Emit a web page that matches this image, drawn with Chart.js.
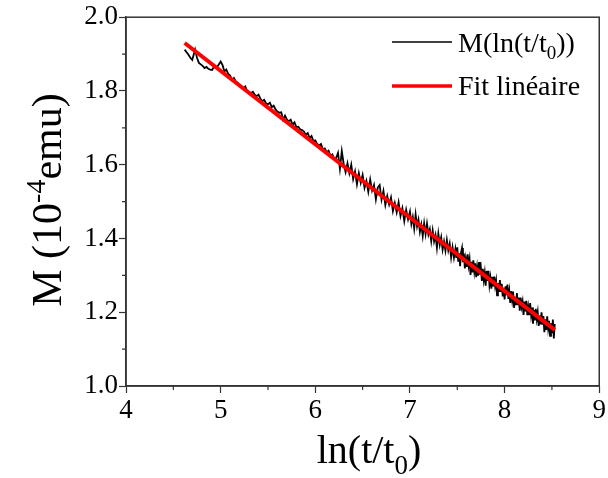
<!DOCTYPE html>
<html>
<head>
<meta charset="utf-8">
<script src="https://cdn.jsdelivr.net/npm/chart.js@4.4.1/dist/chart.umd.min.js"></script>
<style>
  html, body { margin: 0; padding: 0; background: #fff; }
  #wrap { width: 608px; height: 478px; }
</style>
</head>
<body>
<div id="wrap"><canvas id="relaxChart"></canvas></div>
<script>
const lnT = [
  4.62, 4.64, 4.66, 4.68, 4.70, 4.72, 4.73, 4.75, 4.77, 4.79, 4.81, 4.83, 4.85, 4.87, 4.89, 4.91, 4.93, 4.95, 4.97, 5.00,
  5.02, 5.04, 5.06, 5.08, 5.10, 5.12, 5.14, 5.16, 5.18, 5.20, 5.22, 5.24, 5.26, 5.28, 5.30, 5.32, 5.34, 5.36, 5.38, 5.40,
  5.42, 5.44, 5.46, 5.48, 5.50, 5.52, 5.54, 5.56, 5.58, 5.60, 5.62, 5.64, 5.66, 5.68, 5.70, 5.72, 5.74, 5.76, 5.78, 5.80,
  5.82, 5.84, 5.86, 5.88, 5.90, 5.92, 5.94, 5.96, 5.98, 6.00, 6.02, 6.04, 6.06, 6.08, 6.10, 6.12, 6.14, 6.16, 6.18, 6.20,
  6.22, 6.24, 6.26, 6.28, 6.30, 6.32, 6.34, 6.36, 6.38, 6.40, 6.42, 6.44, 6.46, 6.48, 6.50, 6.52, 6.54, 6.56, 6.58, 6.60,
  6.62, 6.64, 6.66, 6.68, 6.70, 6.72, 6.74, 6.76, 6.78, 6.80, 6.82, 6.84, 6.86, 6.88, 6.90, 6.92, 6.94, 6.96, 6.98,
  7.000, 7.015, 7.030, 7.045, 7.060, 7.075, 7.090, 7.105, 7.120, 7.135, 7.150, 7.165, 7.180, 7.195, 7.210, 7.225, 7.240,
  7.255, 7.270, 7.285, 7.300, 7.315, 7.330, 7.345, 7.360, 7.375, 7.390, 7.405, 7.420, 7.435, 7.450, 7.465, 7.480,
  7.49, 7.50, 7.51, 7.52, 7.53, 7.54, 7.55, 7.56, 7.57, 7.58, 7.59, 7.60, 7.61, 7.62, 7.63, 7.64, 7.65, 7.66, 7.67, 7.68,
  7.69, 7.70, 7.71, 7.72, 7.73, 7.74, 7.75, 7.76, 7.77, 7.78, 7.79, 7.80, 7.81, 7.82, 7.83, 7.84, 7.85, 7.86, 7.87, 7.88,
  7.89, 7.90, 7.91, 7.92, 7.93, 7.94, 7.95, 7.96, 7.97, 7.98, 7.99, 8.00, 8.01, 8.02, 8.03, 8.04, 8.05, 8.06, 8.07, 8.08,
  8.09, 8.10, 8.11, 8.12, 8.13, 8.14, 8.15, 8.16, 8.17, 8.18, 8.19, 8.20, 8.21, 8.22, 8.23, 8.24, 8.25, 8.26, 8.27, 8.28,
  8.29, 8.30, 8.31, 8.32, 8.33, 8.34, 8.35, 8.36, 8.37, 8.38, 8.39, 8.40, 8.41, 8.42, 8.43, 8.44, 8.45, 8.46, 8.47, 8.48,
  8.49, 8.50, 8.51, 8.52, 8.53
];
const magnetization = [
  1.912, 1.905, 1.898, 1.890, 1.884, 1.903, 1.912, 1.890, 1.876, 1.872, 1.868, 1.862, 1.865, 1.860, 1.858, 1.857, 1.866, 1.862, 1.868, 1.880,
  1.870, 1.853, 1.858, 1.846, 1.842, 1.830, 1.835, 1.826, 1.822, 1.816, 1.810, 1.806, 1.812, 1.800, 1.797, 1.794, 1.798, 1.790, 1.786, 1.790,
  1.779, 1.772, 1.776, 1.766, 1.764, 1.768, 1.756, 1.760, 1.750, 1.744, 1.741, 1.742, 1.722, 1.733, 1.722, 1.718, 1.722, 1.708, 1.715, 1.702,
  1.703, 1.696, 1.694, 1.690, 1.681, 1.686, 1.672, 1.678, 1.664, 1.666, 1.656, 1.652, 1.656, 1.642, 1.644, 1.634, 1.638, 1.624, 1.628, 1.616,
  1.618, 1.632, 1.589, 1.637, 1.602, 1.580, 1.604, 1.577, 1.600, 1.561, 1.582, 1.547, 1.577, 1.551, 1.572, 1.537, 1.556, 1.527, 1.560, 1.530,
  1.545, 1.506, 1.538, 1.545, 1.505, 1.529, 1.491, 1.515, 1.492, 1.511, 1.474, 1.496, 1.471, 1.498, 1.461, 1.482, 1.447, 1.478, 1.452,
  1.473, 1.439, 1.458, 1.427, 1.465, 1.433, 1.451, 1.418, 1.438, 1.407, 1.441, 1.412, 1.440, 1.411, 1.425, 1.393, 1.422,
  1.392, 1.409, 1.375, 1.413, 1.383, 1.403, 1.370, 1.392, 1.367, 1.396, 1.368, 1.386, 1.349, 1.376, 1.348, 1.371,
  1.347, 1.376, 1.337, 1.360, 1.325, 1.362, 1.374, 1.336, 1.359, 1.319, 1.344, 1.323, 1.357, 1.327, 1.344, 1.301, 1.337, 1.308, 1.341, 1.311,
  1.333, 1.295, 1.322, 1.299, 1.336, 1.302, 1.318, 1.285, 1.318, 1.288, 1.307, 1.272, 1.312, 1.285, 1.312, 1.274, 1.293, 1.264, 1.296, 1.270,
  1.297, 1.271, 1.286, 1.246, 1.279, 1.255, 1.287, 1.255, 1.277, 1.243, 1.266, 1.235, 1.270, 1.246, 1.275, 1.236, 1.257, 1.225, 1.257, 1.233,
  1.256, 1.212, 1.242, 1.219, 1.252, 1.219, 1.240, 1.204, 1.240, 1.215, 1.229, 1.193, 1.229, 1.202, 1.231, 1.192, 1.214, 1.192, 1.225, 1.193,
  1.213, 1.169, 1.206, 1.178, 1.209, 1.182, 1.200, 1.163, 1.191, 1.167, 1.200, 1.166, 1.190, 1.146, 1.181, 1.152, 1.189, 1.157, 1.177, 1.136,
  1.170, 1.143, 1.180, 1.129, 1.168
];
// linear fit end points
const fitLnT = [4.62, 8.53];
const fitM = [1.930, 1.152];

const xTickLabels = [4, 5, 6, 7, 8, 9];
const yTickLabels = [1.0, 1.2, 1.4, 1.6, 1.8, 2.0];

const serif = '"Liberation Serif", "Times New Roman", serif';
const frameColor = '#333';

function isLabel(list, v) {
  return list.some(l => Math.abs(l - v) < 1e-6);
}

// draws text pieces with sub/superscripts, [text, size, dy]
function drawPieces(ctx, pieces, x, y, align) {
  let w = 0;
  pieces.forEach(p => {
    ctx.font = p[1] + 'px ' + serif;
    w += ctx.measureText(p[0]).width;
  });
  let cx = align === 'center' ? x - w / 2 : x;
  ctx.textAlign = 'left';
  ctx.textBaseline = 'alphabetic';
  pieces.forEach(p => {
    ctx.font = p[1] + 'px ' + serif;
    ctx.fillText(p[0], cx, y + p[2]);
    cx += ctx.measureText(p[0]).width;
  });
}

const decorPlugin = {
  id: 'decor',
  afterDraw(chart) {
    const { ctx, chartArea: a, scales } = chart;
    ctx.save();
    ctx.strokeStyle = frameColor;
    ctx.lineWidth = 1.5;
    ctx.strokeRect(a.left, a.top, a.right - a.left, a.bottom - a.top);

    // minor ticks
    ctx.lineWidth = 1.2;
    ctx.beginPath();
    scales.x.ticks.forEach(t => {
      if (isLabel(xTickLabels, t.value)) return;
      const px = scales.x.getPixelForValue(t.value);
      ctx.moveTo(px, a.bottom);
      ctx.lineTo(px, a.bottom + 4);
    });
    scales.y.ticks.forEach(t => {
      if (isLabel(yTickLabels, t.value)) return;
      const py = scales.y.getPixelForValue(t.value);
      ctx.moveTo(a.left, py);
      ctx.lineTo(a.left - 4, py);
    });
    ctx.stroke();

    ctx.fillStyle = '#000';
    // x title
    drawPieces(ctx, [['ln(t/t', 40, 0], ['0', 27, 11], [')', 40, 0]], 369, 463, 'center');
    // y title
    ctx.save();
    ctx.translate(61, 200);
    ctx.rotate(-Math.PI / 2);
    drawPieces(ctx, [['M (10', 42, 0], ['-4', 28, -16], ['emu)', 42, 0]], 0, 0, 'center');
    ctx.restore();

    // legend
    ctx.lineWidth = 1.5;
    ctx.strokeStyle = '#000';
    ctx.beginPath();
    ctx.moveTo(392, 42);
    ctx.lineTo(452, 42);
    ctx.stroke();
    ctx.lineWidth = 3.5;
    ctx.strokeStyle = '#ff0000';
    ctx.beginPath();
    ctx.moveTo(392, 86);
    ctx.lineTo(452, 86);
    ctx.stroke();
    drawPieces(ctx, [['M(ln(t/t', 28, 0], ['0', 19, 7], ['))', 28, 0]], 458, 52, 'left');
    drawPieces(ctx, [['Fit linéaire', 28, 0]], 458, 95, 'left');
    ctx.restore();
  }
};

new Chart(document.getElementById('relaxChart'), {
  type: 'line',
  data: {
    datasets: [
      {
        label: 'M(ln(t/t0))',
        data: lnT.map((x, i) => ({ x: x, y: magnetization[i] })),
        borderColor: '#000',
        borderWidth: 1.8,
        pointRadius: 0,
        tension: 0,
        order: 2,
      },
      {
        label: 'Fit linéaire',
        data: fitLnT.map((x, i) => ({ x: x, y: fitM[i] })),
        borderColor: '#ff0000',
        borderWidth: 4,
        pointRadius: 0,
        order: 1,
      },
    ],
  },
  options: {
    responsive: true,
    maintainAspectRatio: false,
    animation: false,
    layout: { padding: { top: 17, right: 6, left: 0, bottom: 0 } },
    plugins: {
      legend: { display: false },
      tooltip: { enabled: false },
    },
    scales: {
      x: {
        type: 'linear',
        min: 4,
        max: 9,
        afterFit: s => { s.height = 92; },
        border: { color: frameColor, width: 1.5 },
        grid: {
          drawOnChartArea: false,
          tickLength: 7,
          tickWidth: 1.2,
          tickColor: c => (c.tick && isLabel(xTickLabels, c.tick.value) ? frameColor : 'rgba(0,0,0,0)'),
        },
        ticks: {
          stepSize: 0.5,
          autoSkip: false,
          maxRotation: 0,
          padding: 2,
          color: '#000',
          font: { family: serif, size: 27 },
          callback: v => (isLabel(xTickLabels, v) ? String(v) : ''),
        },
      },
      y: {
        min: 1.0,
        max: 2.0,
        afterFit: s => { s.width = 126; },
        border: { color: frameColor, width: 1.5 },
        grid: {
          drawOnChartArea: false,
          tickLength: 7,
          tickWidth: 1.2,
          tickColor: c => (c.tick && isLabel(yTickLabels, c.tick.value) ? frameColor : 'rgba(0,0,0,0)'),
        },
        ticks: {
          stepSize: 0.1,
          autoSkip: false,
          padding: 1,
          color: '#000',
          font: { family: serif, size: 27 },
          callback: v => (isLabel(yTickLabels, v) ? v.toFixed(1) : ''),
        },
      },
    },
  },
  plugins: [decorPlugin],
});
</script>
</body>
</html>
